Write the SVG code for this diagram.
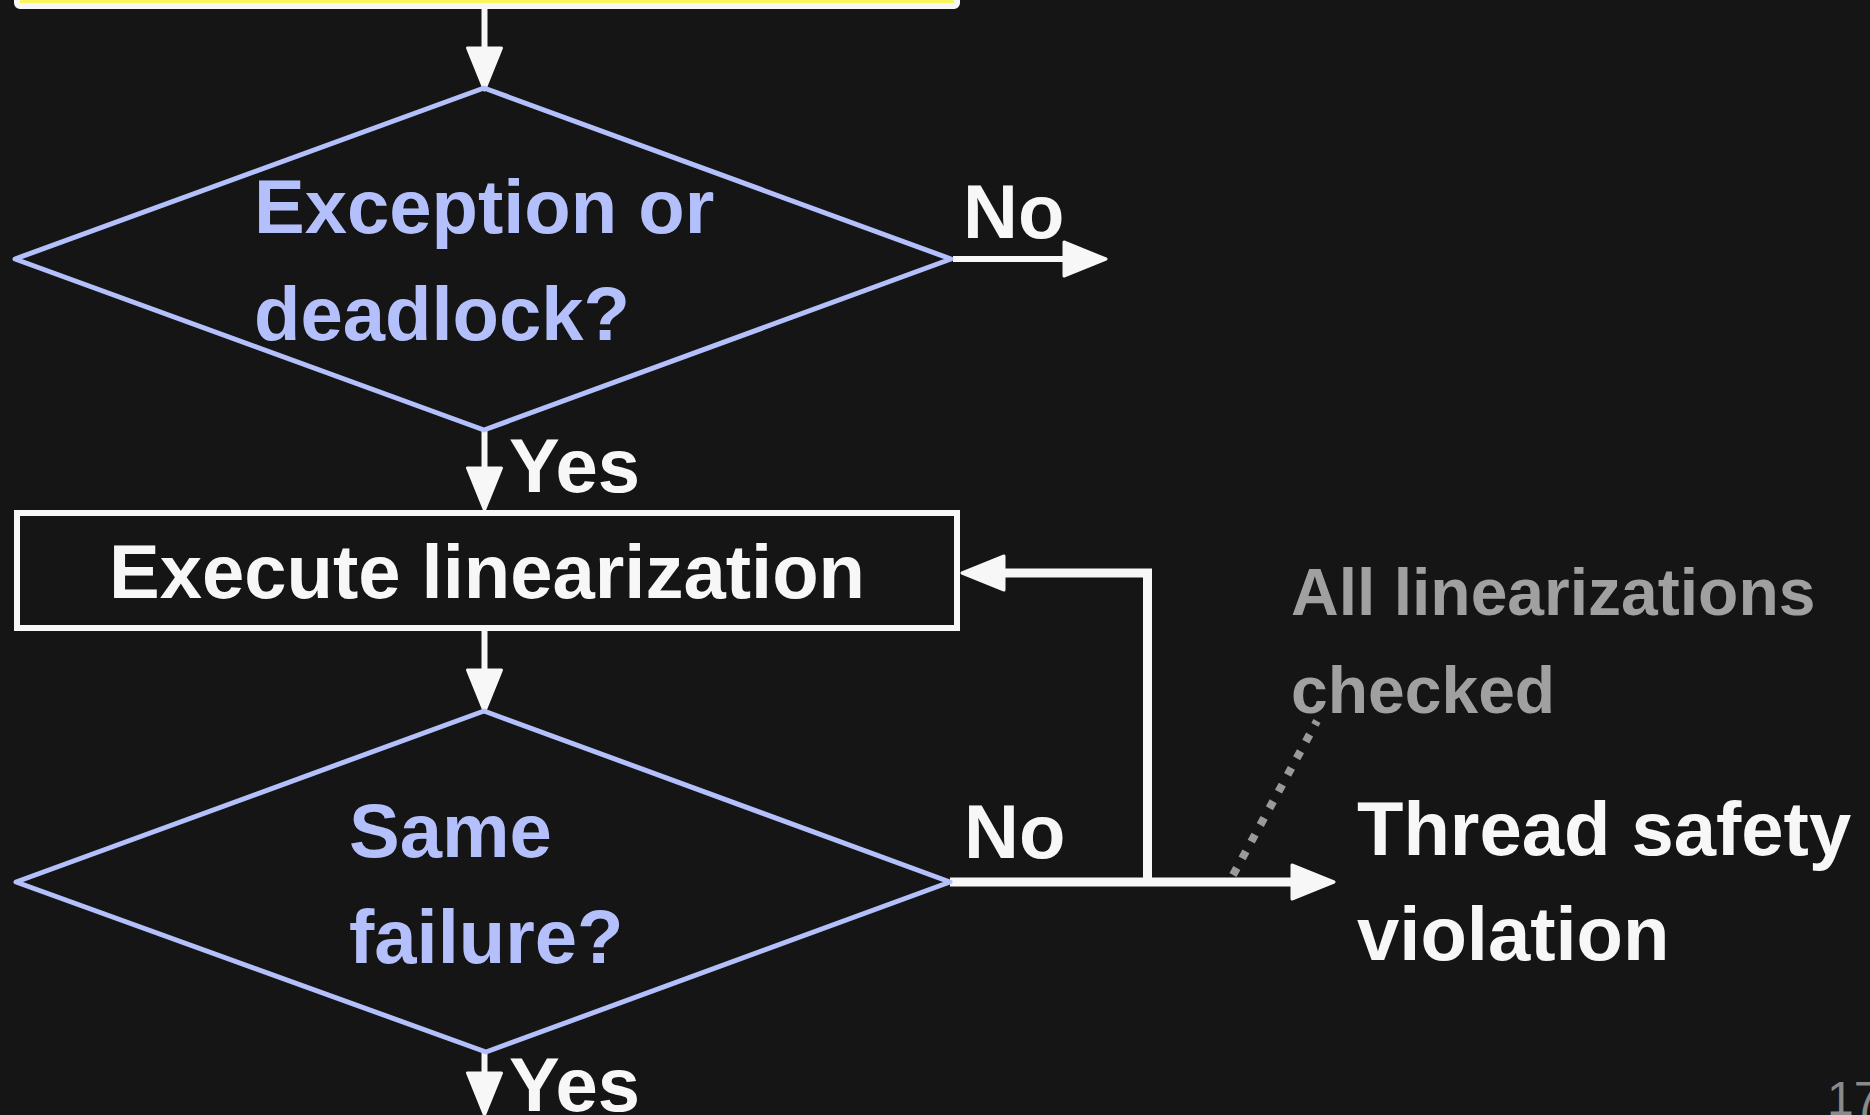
<svg xmlns="http://www.w3.org/2000/svg" width="1870" height="1115" viewBox="0 0 1870 1115">
  <style>
    .bg { fill: #151515; }
    .decision { fill: none; stroke: #b4c0fb; stroke-width: 5; stroke-linejoin: round; }
    .process { fill: none; stroke: #f7f7f7; stroke-width: 6; }
    .start { fill: #f8f65c; stroke: #f7f7f7; stroke-width: 6; }
    .edge { fill: none; stroke: #f7f7f7; stroke-width: 6; marker-end: url(#arrow); }
    .edge-thick { fill: none; stroke: #f7f7f7; stroke-width: 9; marker-end: url(#arrow); }
    .note-link { fill: none; stroke: #9a9a9a; stroke-width: 8; stroke-dasharray: 8 11; }
    text { font-family: "Liberation Sans", Arial, Helvetica, sans-serif; font-weight: bold; }
    .q { fill: #b4c0fb; font-size: 76px; }
    .w { fill: #f7f7f7; font-size: 76px; }
    .note { fill: #a0a0a0; font-size: 66px; }
    .page { fill: #8a8a8a; font-size: 48px; font-weight: normal; }
  </style>
  <defs>
    <!-- arrowhead anchored at its back edge; the tip extends 42px past the path end -->
    <marker id="arrow" viewBox="0 0 46 38" markerWidth="46" markerHeight="38" refX="2" refY="19" orient="auto" markerUnits="userSpaceOnUse" overflow="visible">
      <path d="M2,2 L44,19 L2,36 Z" fill="#f7f7f7" stroke="#f7f7f7" stroke-width="3" stroke-linejoin="round"/>
    </marker>
  </defs>

  <rect class="bg" x="0" y="0" width="1870" height="1115"/>

  <!-- previous step (only its lower edge is visible) -->
  <g id="node-start">
    <rect class="start" x="17" y="-100" width="940" height="106" rx="3"/>
  </g>

  <!-- connectors -->
  <g id="connectors">
    <path class="edge" d="M484.5 9 V48"/>
    <path class="edge" d="M953 259 H1064"/>
    <path class="edge" d="M484.5 430 V468"/>
    <path class="edge" d="M484.5 631 V670"/>
    <path class="edge-thick" d="M950 882 H1292"/>
    <path class="edge-thick" d="M1147.5 886 V573 H1004"/>
    <path class="edge" d="M484.5 1052 V1073"/>
    <path class="note-link" d="M1233 875 L1317 721"/>
  </g>

  <g id="node-exception">
    <polygon class="decision" points="484,88 951,259 484,430 15,259"/>
    <text class="q" x="254" y="233">Exception or</text>
    <text class="q" x="254" y="340">deadlock?</text>
  </g>

  <g id="node-execute">
    <rect class="process" x="17" y="513" width="940" height="115"/>
    <text class="w" x="487" y="598" text-anchor="middle">Execute linearization</text>
  </g>

  <g id="node-same-failure">
    <polygon class="decision" points="484,711 950,882 486,1052 16,882"/>
    <text class="q" x="349" y="857">Same</text>
    <text class="q" x="349" y="963">failure?</text>
  </g>

  <g id="node-violation">
    <text class="w" x="1357" y="855">Thread safety</text>
    <text class="w" x="1357" y="960">violation</text>
  </g>

  <g id="note-all-checked">
    <text class="note" x="1291" y="615">All linearizations</text>
    <text class="note" x="1291" y="713">checked</text>
  </g>

  <!-- edge labels -->
  <g id="labels">
    <text class="w" x="963" y="238">No</text>
    <text class="w" x="509" y="492">Yes</text>
    <text class="w" x="964" y="858">No</text>
    <text class="w" x="509" y="1111">Yes</text>
  </g>

  <text class="page" x="1827" y="1115">17</text>
</svg>
